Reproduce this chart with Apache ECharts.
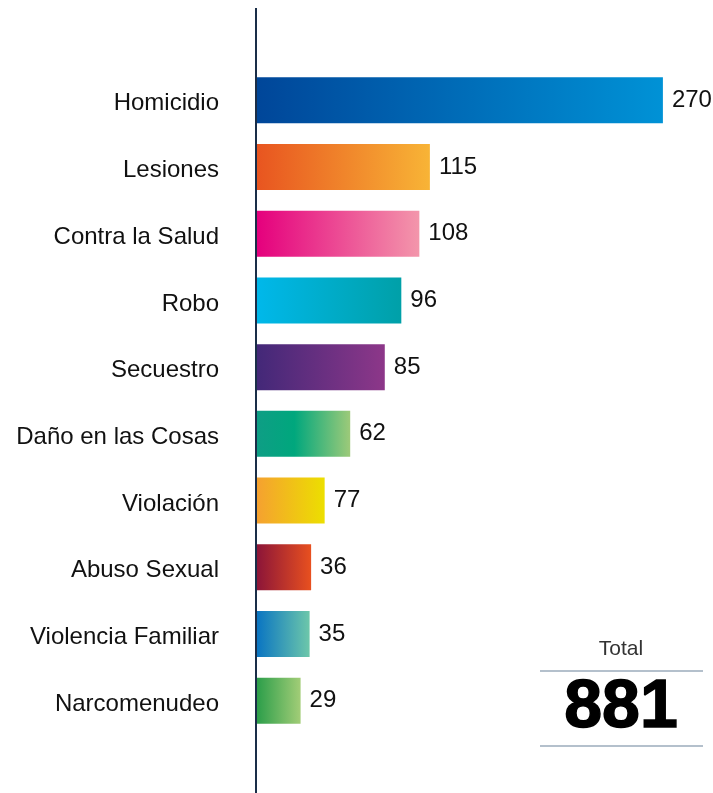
<!DOCTYPE html>
<html>
<head>
<meta charset="utf-8">
<script src="https://cdn.jsdelivr.net/npm/echarts@6/dist/echarts.min.js"></script>
<style>
html,body{margin:0;padding:0;background:#fff;}
#chart{width:713px;height:793px;}
</style>
</head>
<body>
<div id="chart"></div>
<script>
var categories = ['Homicidio','Lesiones','Contra la Salud','Robo','Secuestro','Daño en las Cosas','Violación','Abuso Sexual','Violencia Familiar','Narcomenudeo'];
// bar lengths as drawn in the picture
var values = [270, 115, 108, 96, 85, 62, 45, 36, 35, 29];
// value labels as printed in the picture
var valueLabels = ['270','115','108','96','85','62','77','36','35','29'];
var gradients = [
  [[0,'#004699'],[1,'#0092d6']],
  [[0,'#e85520'],[1,'#f8b436']],
  [[0,'#e5007d'],[1,'#f396ab']],
  [[0,'#00b8ea'],[1,'#00a0a8']],
  [[0,'#432878'],[1,'#8d3789']],
  [[0,'#0e9e85'],[0.4,'#00a77d'],[1,'#9dca79']],
  [[0,'#f5a130'],[1,'#ecdf00']],
  [[0,'#8c1538'],[1,'#e8501f']],
  [[0,'#0a75c2'],[1,'#6dc7aa']],
  [[0,'#2c9e4a'],[1,'#a2cd77']]
];
var totalLabel = 'Total';
var total = values.reduce(function(a,b){return a+b;},0);

var chart = echarts.init(document.getElementById('chart'));
var data = values.map(function(v,i){
  return {
    value: v,
    itemStyle: {
      color: new echarts.graphic.LinearGradient(0,0,1,0, gradients[i].map(function(s){return {offset:s[0], color:s[1]};}))
    }
  };
});
chart.setOption({
  animation: false,
  grid: {left: 257, top: 67, height: 667, width: 451, containLabel: false},
  xAxis: {type: 'value', min: 0, max: 300, show: false},
  yAxis: {
    type: 'category', data: categories, inverse: true,
    axisLine: {show: false}, axisTick: {show: false},
    axisLabel: {
      margin: 38, fontFamily: 'Liberation Sans', fontSize: 24, color: '#111',
      formatter: function(v){ return '{a|' + v + '}'; },
      rich: {a: {fontFamily: 'Liberation Sans', fontSize: 24, color: '#111', padding: [7,0,0,0]}}
    }
  },
  series: [{
    type: 'bar', data: data, barCategoryGap: '31%',
    label: {
      show: true, position: 'right', distance: 9,
      fontFamily: 'Liberation Sans', fontSize: 24, color: '#111',
      formatter: function(p){ return valueLabels[p.dataIndex]; }
    }
  }],
  graphic: [
    {type:'line', shape:{x1:256,y1:8,x2:256,y2:793}, style:{stroke:'#1a2e48', lineWidth:2}},
    {type:'line', shape:{x1:540,y1:671,x2:703,y2:671}, style:{stroke:'#b4c0cc', lineWidth:2}},
    {type:'line', shape:{x1:540,y1:746,x2:703,y2:746}, style:{stroke:'#b4c0cc', lineWidth:2}},
    {type:'text', x:621, y:649, style:{text: totalLabel, fontFamily:'Liberation Sans', fontSize:21, fill:'#333', align:'center', verticalAlign:'middle'}},
    {type:'text', x:621, y:708, style:{text: String(total), fontFamily:'Liberation Sans', fontWeight:'bold', fontSize:68, fill:'#000', align:'center', verticalAlign:'middle', stroke:'#000', lineWidth:1.5}}
  ]
});
</script>
</body>
</html>
